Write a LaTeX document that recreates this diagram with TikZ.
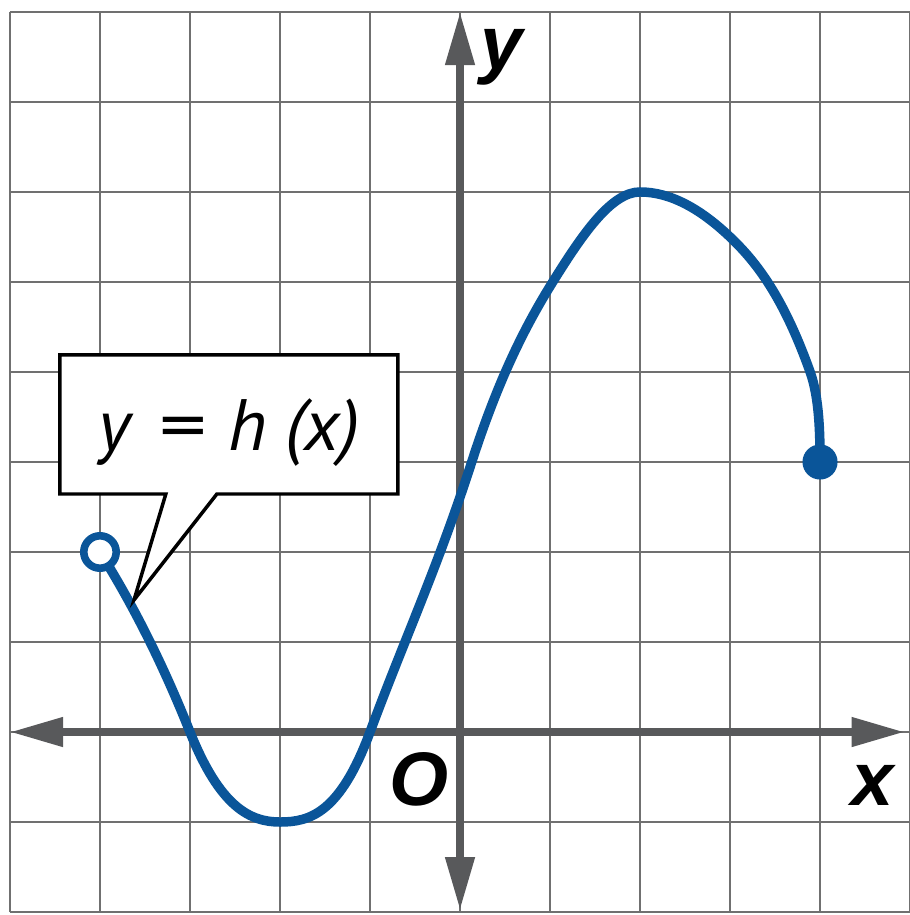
\documentclass[tikz,border=0pt]{standalone}
\usepackage{fontspec}
\setmainfont{Liberation Sans}
\newfontfamily\calloutfont{PT Sans}
\usetikzlibrary{arrows.meta,shapes.callouts}
\definecolor{gridgray}{HTML}{707070}
\definecolor{axisgray}{HTML}{58595B}
\definecolor{curveblue}{HTML}{0A5599}
\tikzset{gridline/.style={draw=gridgray,line width=0.6pt},
axisline/.style={draw=axisgray,line width=2.5pt,{Triangle[length=5.9mm,width=3.1mm]}-{Triangle[length=5.9mm,width=3.1mm]}},
axislabel/.style={font=\fontsize{24}{28}\selectfont\bfseries\itshape,inner sep=0pt},
graphline/.style={draw=curveblue,line width=3pt,line join=round},
namebox/.style={rectangle callout,draw=black,line width=1.1pt,fill=white,minimum width=3.755cm,minimum height=1.545cm,inner sep=0pt,callout pointer width=5.67mm,text height=0.7cm,text depth=0.132cm,font=\calloutfont\itshape\fontsize{23}{26}\selectfont}
}

\begin{document}
\begin{tikzpicture}

  % Page
    \path[fill=white,use as bounding box] (-5.111,-2.033) rectangle (4.989,8.133);

  % Grid
    \draw[gridline] (-5,-2) grid (5,8);

  % Axes
    \coordinate (xl) at (-5,0);
    \coordinate (xr) at (4.94,0);
    \coordinate (yb) at (0,-1.98);
    \coordinate (yt) at (0,8);
    \draw[axisline] (xl) -- (xr);
    \draw[axisline] (yb) -- (yt);
    \node[axislabel] (ylab) at (0.46,7.5) {y};
    \node[axislabel] (xlab) at (4.58,-0.59) {x};
    \node[axislabel] (olab) at (-0.46,-0.53) {O};

  % Graph of h
    \coordinate (start) at (-4,2);
    \coordinate (stop) at (4,3);
    \draw[graphline] (start) .. controls (-3.667,1.467) and (-3.333,0.833) .. (-3,0)
      .. controls (-2.667,-0.833) and (-2.333,-1) .. (-2,-1)
      .. controls (-1.667,-1) and (-1.333,-0.9) .. (-1,0)
      .. controls (-0.623,1.017) and (-0.247,1.832) .. (0.13,3)
      .. controls (0.43,3.93) and (0.73,4.52) .. (1.03,5)
      .. controls (1.353,5.517) and (1.677,6) .. (2,6)
      .. controls (2.333,6) and (2.667,5.817) .. (3,5.5)
      .. controls (3.297,5.218) and (3.593,4.831) .. (3.89,4)
      .. controls (3.99,3.72) and (4,3.33) .. (stop);
    \node[circle,draw=curveblue,line width=2.4pt,fill=white,minimum size=3.6mm,inner sep=0pt] (opendot) at (start) {};
    \node[circle,fill=curveblue,minimum size=3.9mm,inner sep=0pt] (closeddot) at (stop) {};

  % Label
    \coordinate (tip) at (-3.622,1.467);
    \node[namebox,callout absolute pointer={(tip)}] (hlab) at (-2.567,3.417) {y\hspace{0.4em}\scalebox{1.3}[1]{\upshape=}\hspace{0.3em}h\hspace{0.25em}(x)};

\end{tikzpicture}
\end{document}
